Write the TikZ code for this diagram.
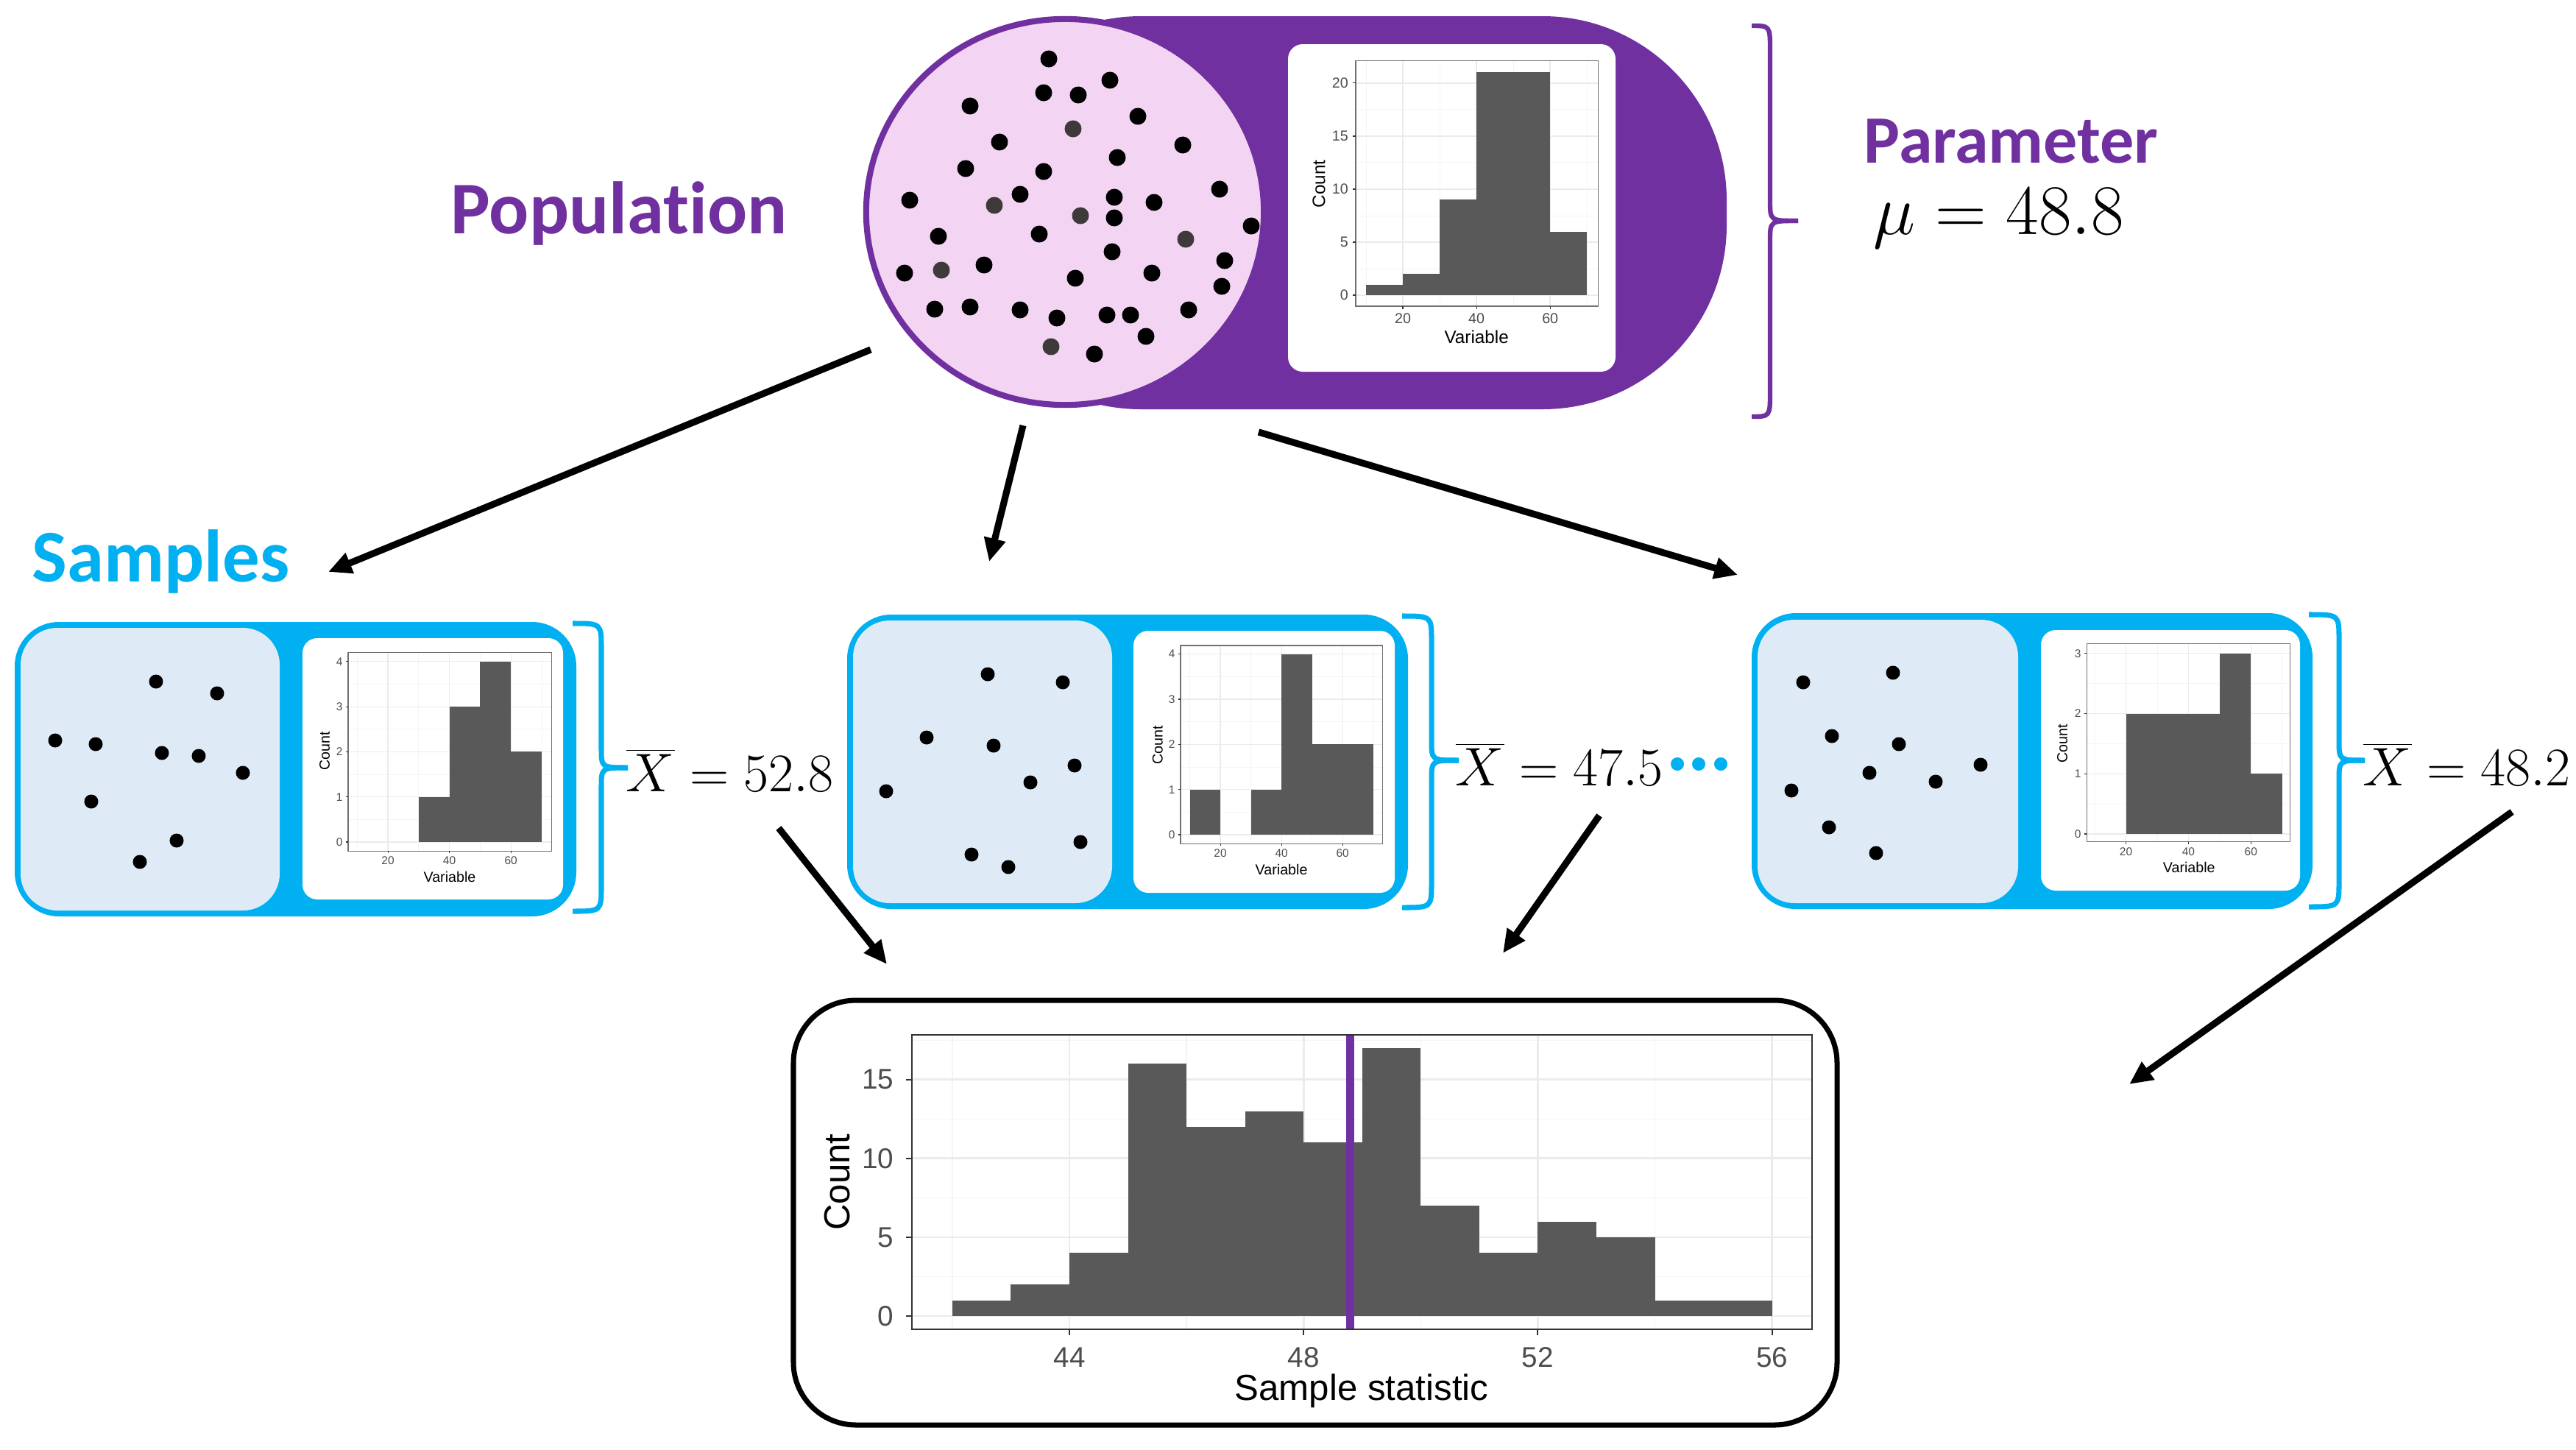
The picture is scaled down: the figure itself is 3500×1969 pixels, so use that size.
\documentclass[tikz,border=0pt]{standalone}
\usepackage{fix-cm}
\usepackage{fontspec}
\usetikzlibrary{arrows.meta}
\newfontfamily\arialf{Liberation Sans}
\newfontfamily\calib[Ligatures={NoCommon,NoRare,NoContextual}]{Carlito}
\definecolor{popc}{HTML}{7030A0}
\definecolor{pinkc}{HTML}{F3D5F3}
\definecolor{cyanc}{HTML}{00B0F0}
\definecolor{lblue}{HTML}{DEEBF7}
\definecolor{barc}{HTML}{595959}
\definecolor{ggrid}{HTML}{EBEBEB}
\definecolor{ggridm}{HTML}{F4F4F4}
\definecolor{gborder}{HTML}{333333}
\definecolor{gtick}{HTML}{4D4D4D}
\definecolor{greydot}{HTML}{3F3A3A}
% panel: xmin xmax ymin ymax xminor xmajor yminor ymajor
\newcommand\ggpanel[8]{%
  \fill[white] (#1,#3) rectangle (#2,#4);
  \foreach \g in {#5} \draw[gminor] (\g,#3) -- (\g,#4);
  \foreach \g in {#7} \draw[gminor] (#1,\g) -- (#2,\g);
  \foreach \g in {#6} \draw[gmajor] (\g,#3) -- (\g,#4);
  \foreach \g in {#8} \draw[gmajor] (#1,\g) -- (#2,\g);
}
\newcommand\ggbars[2]{\foreach \a/\h in {#2} \fill[barc] (\a,0) rectangle ++(#1,\h);}
% axes: xmin xmax ymin ymax xticks yticks prefix
\newcommand\ggaxes[7]{%
  \draw[gframe] (#1,#3) rectangle (#2,#4);
  \foreach \g in {#5} {\draw[gtickm] (\g,#3) -- ++(0pt,-\ggtl);
    \node[ggtick, anchor=north, yshift=-\ggtl-\ggtg] (#7x\g) at (\g,#3) {\g};}
  \foreach \g in {#6} {\draw[gtickm] (#1,\g) -- ++(-\ggtl,0pt);
    \node[ggtick, anchor=east, xshift=-\ggtl-\ggtg] (#7y\g) at (#1,\g) {\g};}
}
\newcommand\bracepath[7]{% xL xM xR top mid bot style
  \draw[#7] (#1,#4) .. controls (#2,#4) .. (#2,#4+34) -- (#2,#5-27) .. controls (#2,#5) .. (#3,#5);
  \draw[#7] (#3,#5) .. controls (#2,#5) .. (#2,#5+27) -- (#2,#6-34) .. controls (#2,#6) .. (#1,#6);
}
\begin{document}
\begin{tikzpicture}[x=0.01cm, y=-0.01cm,
  arr/.style={line width=2.6pt, -{Triangle[length=9pt,width=8pt]}},
  bigword/.style={anchor=base west, inner sep=0pt, font=\calib\bfseries\fontsize{28.7}{30}\selectfont},
  mathlab/.style={anchor=base west, inner sep=0pt, font=\fontsize{21}{22}\selectfont},
  dotb/.style={fill=black},
  dotg/.style={fill=greydot}]
\useasboundingbox (0,0) rectangle (3500,1969);
\fill[white] (0,0) rectangle (3500,1969);

% ---------------- Population ----------------
\fill[popc, rounded corners=2.5cm] (1300,22) rectangle (2346,556);
\filldraw[fill=pinkc, draw=popc, line width=2.3pt] (1447,288) ellipse [x radius=2.70cm, y radius=2.62cm];
\foreach \p in {(1425,80),(1508,109),(1418,126),(1465,129),(1318,144),(1546,158),(1358,193),(1607,197),(1518,214),(1312,229),(1418,233),(1657,257),(1236,272),(1386,264),(1514,268),(1568,275),(1514,296),(1700,307),(1275,321),(1412,318),(1511,342),(1664,354),(1229,371),(1337,360),(1565,371),(1461,378),(1660,389),(1270,420),(1318,417),(1386,421),(1436,432),(1504,428),(1536,428),(1615,421),(1557,457),(1487,481)}
  \fill[dotb] \p circle[radius=0.115cm];
\foreach \p in {(1458,175),(1351,279),(1468,293),(1611,325),(1279,367),(1428,471)}
  \fill[dotg] \p circle[radius=0.115cm];
\fill[white, rounded corners=0.2cm] (1750,60) rectangle (2195,505);
\begin{scope}[shift={(1806,401)}, x=0.05cm, y=0.144cm,
  gmajor/.style={draw=ggrid,line width=0.45pt}, gminor/.style={draw=ggridm,line width=0.25pt},
  gframe/.style={draw=gborder!70,line width=0.4pt}, gtickm/.style={draw=gborder,line width=0.35pt},
  ggtick/.style={font=\arialf\fontsize{5.6}{6}\selectfont, text=gtick, inner sep=0pt},
  ggtitle/.style={font=\arialf\fontsize{6.9}{7}\selectfont, inner sep=0pt}]
  \def\ggtl{1.1pt}\def\ggtg{1.6pt}
  \ggpanel{7.2}{73}{-1.04}{22.1}{10,30,50,70}{20,40,60}{2.5,7.5,12.5,17.5}{0,5,10,15,20}
  \ggbars{10}{10/1,20/2,30/9,40/21,50/21,60/6}
  \ggaxes{7.2}{73}{-1.04}{22.1}{20,40,60}{0,5,10,15,20}{pa}
  \node[ggtitle, rotate=90] (pacount) at (-2.8,10.5) {Count};
  \node[ggtitle] (pavar) at (40,-3.96) {Variable};
\end{scope}
\bracepath{2380}{2405}{2443}{35}{300}{566}{popc, line width=1.8pt}
\node[bigword, text=popc] (poplab) at (612,317) {Population};
\node[bigword, text=popc, font=\calib\bfseries\fontsize{26.2}{28}\selectfont] (parlab) at (2532,221) {Parameter};
\node[anchor=base west, inner sep=0pt, font=\fontsize{27.5}{28}\selectfont] (mulab) at (2545,318) {$\mu = 48.8$};

% ---------------- Samples ----------------
\node[bigword, text=cyanc] (samplab) at (43,790) {Samples};

% sample box 1
\fill[cyanc, rounded corners=0.6cm] (20,845) rectangle (783,1245);
\fill[lblue, rounded corners=0.5cm] (28,853) rectangle (380,1237);
\fill[white, rounded corners=0.2cm] (411,867) rectangle (765,1222);
\foreach \p in {(212,926),(295,942),(75,1006),(130,1011),(220,1023),(270,1027),(330,1050),(124,1089),(240,1142),(190,1171)}
  \fill[dotb] \p circle[radius=0.095cm];
\begin{scope}[shift={(443.5,1144)}, x=0.04175cm, y=0.6125cm,
  gmajor/.style={draw=ggrid,line width=0.35pt}, gminor/.style={draw=ggridm,line width=0.2pt},
  gframe/.style={draw=gborder!70,line width=0.35pt}, gtickm/.style={draw=gborder,line width=0.3pt},
  ggtick/.style={font=\arialf\fontsize{4.4}{5}\selectfont, text=gtick, inner sep=0pt},
  ggtitle/.style={font=\arialf\fontsize{5.6}{6}\selectfont, inner sep=0pt}]
  \def\ggtl{0.85pt}\def\ggtg{1.1pt}
  \ggpanel{7.07}{73.2}{-0.2}{4.2}{10,30,50,70}{20,40,60}{0.5,1.5,2.5,3.5}{0,1,2,3,4}
  \ggbars{10}{30/1,40/3,50/4,60/2}
  \ggaxes{7.07}{73.2}{-0.2}{4.2}{20,40,60}{0,1,2,3,4}{sa}
  \node[ggtitle, rotate=90] (sacount) at (-0.6,2.02) {Count};
  \node[ggtitle] (savar) at (40.1,-0.77) {Variable};
\end{scope}
\bracepath{778}{817}{853}{847}{1043}{1238}{cyanc, line width=2pt}
\node[mathlab] (xb1) at (850,1075) {$\overline{X} = 52.8$};

% sample box 2
\fill[cyanc, rounded corners=0.6cm] (1151,835) rectangle (1913,1235);
\fill[lblue, rounded corners=0.5cm] (1159,843) rectangle (1511,1227);
\fill[white, rounded corners=0.2cm] (1540,857) rectangle (1895,1213);
\foreach \p in {(1342,916),(1444,927),(1259,1002),(1350,1013),(1460,1040),(1400,1063),(1204,1075),(1468,1144),(1320,1161),(1370,1178)}
  \fill[dotb] \p circle[radius=0.095cm];
\begin{scope}[shift={(1575,1134)}, x=0.0415cm, y=0.613cm,
  gmajor/.style={draw=ggrid,line width=0.35pt}, gminor/.style={draw=ggridm,line width=0.2pt},
  gframe/.style={draw=gborder!70,line width=0.35pt}, gtickm/.style={draw=gborder,line width=0.3pt},
  ggtick/.style={font=\arialf\fontsize{4.4}{5}\selectfont, text=gtick, inner sep=0pt},
  ggtitle/.style={font=\arialf\fontsize{5.6}{6}\selectfont, inner sep=0pt}]
  \def\ggtl{0.85pt}\def\ggtg{1.1pt}
  \ggpanel{7.0}{73.0}{-0.2}{4.19}{10,30,50,70}{20,40,60}{0.5,1.5,2.5,3.5}{0,1,2,3,4}
  \ggbars{10}{10/1,30/1,40/4,50/2,60/2}
  \ggaxes{7.0}{73.0}{-0.2}{4.19}{20,40,60}{0,1,2,3,4}{sb}
  \node[ggtitle, rotate=90] (sbcount) at (-0.5,1.99) {Count};
  \node[ggtitle] (sbvar) at (40,-0.77) {Variable};
\end{scope}
\bracepath{1905}{1945}{1982}{837}{1033}{1233}{cyanc, line width=2pt}
\node[mathlab] (xb2) at (1977,1067) {$\overline{X} = 47.5$};
\foreach \i/\x in {1/2279,2/2308,3/2338}
  \fill[cyanc] (\x,1038) circle[radius=0.09cm];

% sample box 3
\fill[cyanc, rounded corners=0.6cm] (2380,833) rectangle (3142,1235);
\fill[lblue, rounded corners=0.5cm] (2388,842) rectangle (2742,1227);
\fill[white, rounded corners=0.2cm] (2773,856) rectangle (3125,1210);
\foreach \p in {(2450,927),(2572,914),(2489,1000),(2580,1011),(2691,1039),(2540,1050),(2630,1062),(2434,1074),(2485,1124),(2549,1159)}
  \fill[dotb] \p circle[radius=0.095cm];
\begin{scope}[shift={(2803.7,1133)}, x=0.0424cm, y=0.817cm,
  gmajor/.style={draw=ggrid,line width=0.35pt}, gminor/.style={draw=ggridm,line width=0.2pt},
  gframe/.style={draw=gborder!70,line width=0.35pt}, gtickm/.style={draw=gborder,line width=0.3pt},
  ggtick/.style={font=\arialf\fontsize{4.4}{5}\selectfont, text=gtick, inner sep=0pt},
  ggtitle/.style={font=\arialf\fontsize{5.6}{6}\selectfont, inner sep=0pt}]
  \def\ggtl{0.85pt}\def\ggtg{1.1pt}
  \ggpanel{7.4}{72.5}{-0.13}{3.16}{10,30,50,70}{20,40,60}{0.5,1.5,2.5}{0,1,2,3}
  \ggbars{10}{20/2,30/2,40/2,50/3,60/1}
  \ggaxes{7.4}{72.5}{-0.13}{3.16}{20,40,60}{0,1,2,3}{sc}
  \node[ggtitle, rotate=90] (sccount) at (-0.4,1.5) {Count};
  \node[ggtitle] (scvar) at (40.2,-0.56) {Variable};
\end{scope}
\bracepath{3137}{3178}{3213}{835}{1033}{1232}{cyanc, line width=2pt}
\node[mathlab] (xb3) at (3210,1067) {$\overline{X} = 48.2$};

% ---------------- Sampling distribution ----------------
\draw[line width=2pt, rounded corners=0.85cm] (1078,1359) rectangle (2496,1936);
\begin{scope}[shift={(-2047,1788)}, x=0.795cm, y=0.214cm,
  gmajor/.style={draw=ggrid,line width=0.8pt}, gminor/.style={draw=ggridm,line width=0.4pt},
  gframe/.style={draw=gborder,line width=0.6pt}, gtickm/.style={draw=gborder,line width=0.6pt},
  ggtick/.style={font=\arialf\fontsize{11}{12}\selectfont, text=gtick, inner sep=0pt},
  ggtitle/.style={font=\arialf\fontsize{14}{15}\selectfont, inner sep=0pt}]
  \def\ggtl{2.3pt}\def\ggtg{4.5pt}
  \ggpanel{41.31}{56.68}{-0.84}{17.85}{42,46,50,54}{44,48,52,56}{2.5,7.5,12.5,17.5}{0,5,10,15}
  \ggbars{1}{42/1,43/2,44/4,45/16,46/12,47/13,48/11,49/17,50/7,51/4,52/6,53/5,54/1,55/1}
  \draw[popc, line width=3.1pt] (48.8,-0.84) -- (48.8,17.85);
  \ggaxes{41.31}{56.68}{-0.84}{17.85}{44,48,52,56}{0,5,10,15}{bh}
  \node[ggtitle, rotate=90] (bhcount) at (40.03,8.5) {Count};
  \node[ggtitle] (bhvar) at (48.99,-4.75) {Sample statistic};
\end{scope}

% ---------------- Arrows ----------------
\coordinate (a1s) at (1183,475); \coordinate (a1e) at (446,777);
\coordinate (a2s) at (1390,578); \coordinate (a2e) at (1344,763);
\coordinate (a3s) at (1710,587); \coordinate (a3e) at (2361,781);
\coordinate (b1s) at (1058,1125); \coordinate (b1e) at (1205,1310);
\coordinate (b2s) at (2173,1108); \coordinate (b2e) at (2042,1295);
\coordinate (b3s) at (3413,1103); \coordinate (b3e) at (2893,1473);
\draw[arr] (a1s) -- (a1e);
\draw[arr] (a2s) -- (a2e);
\draw[arr] (a3s) -- (a3e);
\draw[arr] (b1s) -- (b1e);
\draw[arr] (b2s) -- (b2e);
\draw[arr] (b3s) -- (b3e);
\end{tikzpicture}
\end{document}
